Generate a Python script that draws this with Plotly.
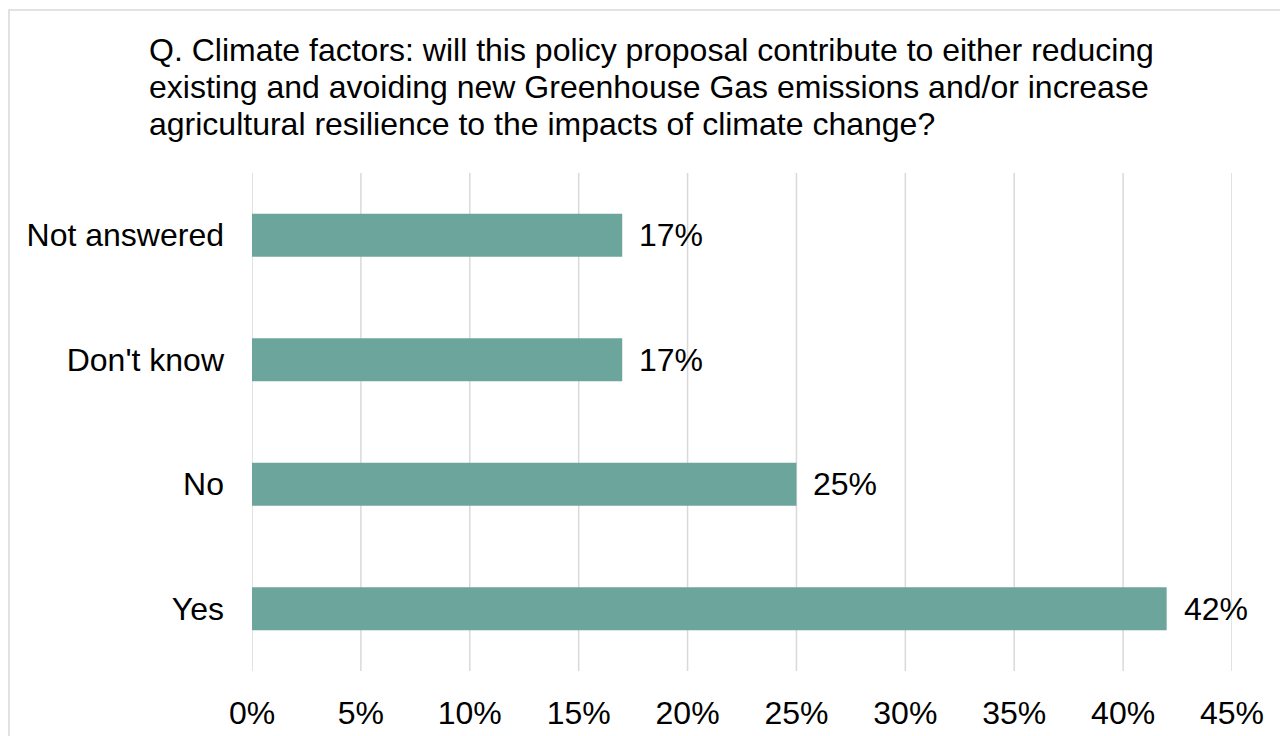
import plotly.graph_objects as go

categories = ["Not answered", "Don't know", "No", "Yes"]
values = [17, 17, 25, 42]
x_ticks = [0, 5, 10, 15, 20, 25, 30, 35, 40, 45]
x_tick_labels = [f"{v}%" for v in x_ticks]
title_lines = [
    "Q. Climate factors: will this policy proposal contribute to either reducing",
    "existing and avoiding new Greenhouse Gas emissions and/or increase",
    "agricultural resilience to the impacts of climate change?",
]

FONT = "Liberation Sans, Arial, sans-serif"
FS = 32
BAR_COLOR = "#6ca59c"
GRID = "#d9d9d9"

W, H = 1280, 736
L, R, T, B = 252, 48, 173, 45          # paper area: x 252..1232, y 173..691
PLOT_BOTTOM = 671                       # bottom of the bar area (px)
pw = W - L - R
ph = H - T - B
y_dom0 = (H - B - PLOT_BOTTOM) / ph


def px_x(x):
    return (x - L) / pw


def px_y(y):
    return (H - B - y) / ph


fig = go.Figure()

# vertical gridlines confined to the bar area
for t in x_ticks:
    fig.add_shape(type="line", xref="x", yref="y domain", x0=t, x1=t, y0=0, y1=1,
                  line=dict(color=GRID, width=1.5), layer="below")

fig.add_trace(go.Bar(
    x=values, y=categories, orientation="h",
    marker=dict(color=BAR_COLOR, line=dict(width=0)),
    hoverinfo="skip",
))

for c, v in zip(categories, values):
    fig.add_annotation(x=v, y=c, text=f"{v}%", showarrow=False,
                       xanchor="left", yanchor="middle", xshift=15,
                       font=dict(family=FONT, size=FS, color="#000000"))

for i, line in enumerate(title_lines):
    fig.add_annotation(xref="paper", yref="paper", x=px_x(147), y=px_y(50 + 37 * i),
                       text=line, showarrow=False, xanchor="left", yanchor="middle",
                       font=dict(family=FONT, size=FS, color="#000000"))

# outer border
fig.add_shape(type="rect", xref="paper", yref="paper",
              x0=px_x(9), x1=px_x(W + 10),
              y0=px_y(H + 10), y1=px_y(10),
              line=dict(color="#d9d9d9", width=1.5), fillcolor="rgba(0,0,0,0)", layer="below")

fig.update_layout(
    width=W, height=H,
    margin=dict(l=L, r=R, t=T, b=B),
    paper_bgcolor="white", plot_bgcolor="rgba(0,0,0,0)",
    showlegend=False,
    bargap=0.655,
    xaxis=dict(range=[0, 45], tickvals=x_ticks, ticktext=x_tick_labels,
               anchor="free", position=0,
               showgrid=False, zeroline=False, showline=False, ticks="", automargin=False,
               tickfont=dict(family=FONT, size=FS, color="#000000")),
    yaxis=dict(domain=[y_dom0, 1],
               categoryorder="array", categoryarray=categories, autorange="reversed",
               showgrid=False, zeroline=False, showline=False, ticks="", automargin=False,
               ticklabelstandoff=27,
               tickfont=dict(family=FONT, size=FS, color="#000000")),
)

fig.write_html("out.html")
